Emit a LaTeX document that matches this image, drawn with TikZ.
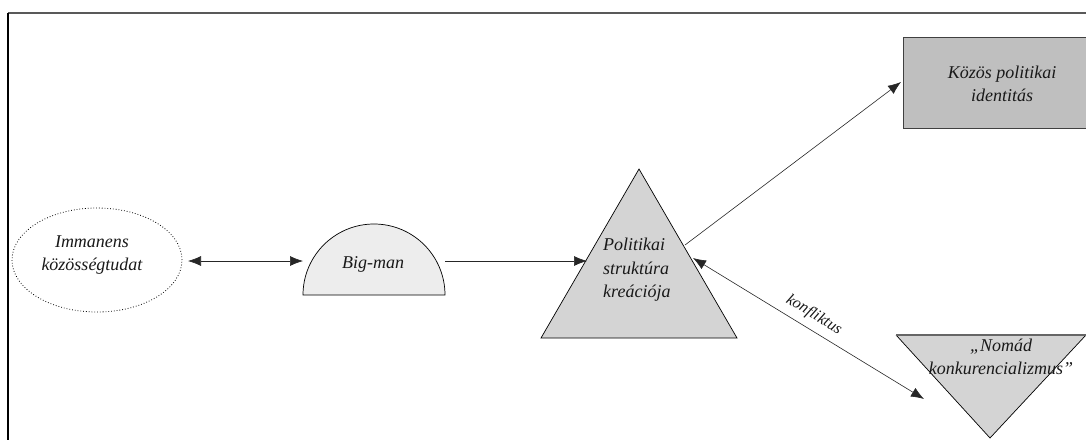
\documentclass[tikz,border=0pt]{standalone}
\usepackage{fontspec}
\setmainfont{Liberation Serif}
\usetikzlibrary{arrows.meta,calc,shapes.geometric}
\begin{document}
\begin{tikzpicture}[x=1pt,y=-1pt,
  lbl/.style={font=\fontsize{18}{23.5}\selectfont\itshape, text=black!90, inner sep=0pt},
  conn/.style={line width=0.6pt, draw=black!85},
  tipboth/.style={{Latex[length=13pt,width=10pt]}-{Latex[length=13pt,width=10pt]}},
  tipend/.style={-{Latex[length=13pt,width=10pt]}},
]
\useasboundingbox (0,0) rectangle (1086,439);
\clip (0,0) rectangle (1086,439);
% frame
\draw[line width=1.2pt, black!65] (8,13) -- (1100,13);
\draw[line width=1.2pt, black] (8,13) -- (8,450);

% ellipse
\node[draw, dotted, line width=0.8pt, ellipse, minimum width=170pt, minimum height=104pt, inner sep=0pt] (imm) at (97,260) {};
\node[lbl, align=center] (immt) at (92,255) {Immanens\\közösségtudat};
\coordinate (immE) at (188,261);

% Big-man semicircle
\draw[fill=black!7, line width=0.7pt] (303,295) arc[start angle=180, end angle=360, radius=71] -- cycle;
\coordinate (bigL) at (303,261);
\coordinate (bigR) at (445,261);
\node[lbl, anchor=base] (bigt) at (373,268) {Big-man};

% triangle
\coordinate (tA) at (639,169);
\coordinate (tL) at (541,338);
\coordinate (tR) at (737,338);
\draw[fill=black!17, line width=0.7pt] (tA) -- (tR) -- (tL) -- cycle;
\coordinate (triL) at (587,261);
\coordinate (triR1) at (685,245);
\coordinate (triR2) at (693,258);
\node[lbl, align=left, anchor=north west] (trit) at (603,238) {Politikai\\struktúra\\kreációja};

% rectangle
\draw[fill=black!25, line width=1pt, draw=black!75] (903,37) rectangle (1110,128);
\coordinate (recL) at (901,82);
\node[lbl, align=center] (rect) at (1002,84) {Közös politikai\\identitás};

% inverted triangle
\coordinate (iL) at (896,335);
\coordinate (iR) at (1086,335);
\coordinate (iB) at (990,438);
\draw[fill=black!17, line width=0.7pt] (iL) -- (iB) -- (iR);
\draw[line width=1.4pt, black!60] (iL) -- (iR);
\coordinate (invL) at (924,399);
\node[lbl, align=center] (invt) at (1001,357) {„Nomád\\konkurencializmus”};

% connectors
\draw[conn, tipboth] (immE) -- (bigL);
\draw[conn, tipend] (bigR) -- (triL);
\draw[conn, tipend] (triR1) -- (recL);
\draw[conn, tipboth] (triR2) -- (invL);
\node[lbl, rotate=-31.5, font=\fontsize{16}{18}\selectfont\itshape] (konf) at (814,315) {konfliktus};
\end{tikzpicture}
\end{document}
